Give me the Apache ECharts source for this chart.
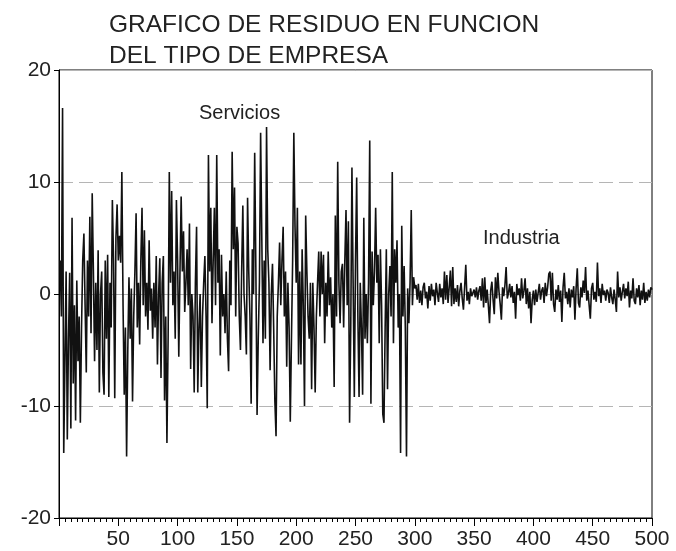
<!DOCTYPE html>
<html>
<head>
<meta charset="utf-8">
<script src="https://cdn.jsdelivr.net/npm/echarts@6/dist/echarts.min.js"></script>
<style>
  html, body { margin: 0; padding: 0; background: #fff; }
  #chart { width: 676px; height: 551px; }
</style>
</head>
<body>
<div id="chart"></div>
<script>
// residuos, observaciones 1-300 (servicios)
const servicios = [
  3, -2, 16.6, -14.2, -6, 2, -13, -4, 1.9, -12,
  6.8, -8, -1, -11.3, 1.2, -6, -2, -11.5, -3, 3,
  5.4, -1, -7, 3, -2, 6.9, -3.5, 9.0, 2, -6,
  1, -5, 3.9, -8.8, 0, 2, -7, -9, 3, -4,
  3.5, -9.2, 1, -3, 8.4, 3, -9.3, 5, 8.0, 3,
  5.2, 2.8, 10.9, -1, -9, -3, -14.5, -5, 1.5, -4,
  0.5, -9.6, -2, 2, 7.2, -3, 1, -4.5, 3, 7.7,
  -1, 5.7, -2, 1, -3.2, 4.8, -1.5, 0.5, -4, 1,
  -3, 3.4, -6.3, 0, 3.2, -7.5, 1, 3.4, -9.5, -2,
  -13.3, -4, 10.9, 1, 9.2, -1, 2, -4, 8.4, 3,
  -5.6, 2, 8.7, 2, 5.6, -1.6, 1, 4, -1, 6.3,
  -6.7, 0, -2, -8.8, 1, 6, -8.8, -3, 0, -8.3,
  -2, 1, 3.4, -2, -10.2, 12.4, 2, 7.7, -2.6, 3,
  7.7, -1, 12.4, 1, 4, -5.5, 3.5, -2, 0, -3.5,
  2, -4, -6.9, 3, -1, 12.7, 4, 9.5, -2, 6,
  4.5, -2, -5, 2, 7.9, 0, -2, -5.4, 8.6, 2,
  -2, -9.8, 4, 0, 12.6, 2, -10.8, -4, 1, 14.4,
  5, -4.4, 3, -4, 14.9, 4, 1, -6.8, 0, 2.7,
  -3, -9.5, -12.7, -2, 1, 4.6, -1, 3, 6, -2,
  2, -6.5, 1, -3, -11.4, -4, 3, 14.4, 6, 1,
  7.7, -6.3, 2, -6.3, 4, -1, -10, 7, 2, -2,
  -4, 1, -8.5, 1, -3, -8.8, -2, 1, 3.8, -2,
  3.8, 0, 3.5, -4.4, 1, -2, 3.8, -1, 1.5, -3,
  0, -8.3, 7, -2, 11.8, 1, -2.6, 2, 2.7, -3,
  3, 7.5, -1, 6.5, -11.5, -3, 11.3, 1, -9.2, 3,
  10.4, -2, -9.2, 1, -3, -9, 6.8, -4, 0, -4.4,
  1, 13.7, -9.8, 3.8, -1, 2, 7.7, 1, 3.5, -4.4,
  4, -1, -10.7, -11.5, -3, 4, -8.5, 0, 2.5, -2,
  10.9, -4.4, 4, 1, 4.8, -3, 0, -14.2, 6.1, -2,
  2.5, -3, -14.5, 0.5, -2.6, 1, 7.5, -1, 1.5, 0.5
];

// residuos, observaciones 301-500 (industria)
const industria = [
  0.8, -0.5, 0.9, -0.8, 0.3, -1.0, 0.6, 1.0, -0.4, 0.2,
  -1.3, 0.7, -0.6, 0.9, -0.2, 0.4, -1.0, 1.0, 0.1, -0.7,
  0.9, -0.3, 0.5, -0.9, 2.0, -0.5, 1.7, -0.8, 0.6, 2.1,
  -1.1, 2.4, -0.9, 0.5, -0.7, 0.8, -1.1, 0.3, 1.0, -0.4,
  -1.4, 0.6, 2.6, -0.6, 0.2, -0.9, 0.5, -0.2, 0.1, 0.4,
  -0.3, 0.6, -0.5, 0.3, 0.7, -0.6, 1.4, -1.2, 1.5, -0.8,
  0.4, -1.0, -2.6, 0.3, 1.1, -0.5, -1.8, 1.5, -0.4, 1.9,
  0.2, -0.9, -2.3, 0.6, -0.2, 0.8, 2.4, -0.4, 0.1, 0.9,
  -0.3, 0.7, -0.8, 0.2, -2.2, 0.9, -0.1, 0.5, -0.6, 1.4,
  -0.4, 0.3, 1.4, -0.9, 0.5, -1.3, 0.2, -2.6, -0.5, 0.3,
  -1.0, 0.4, -0.7, 0.1, 0.9, -0.5, 0.3, 0.6, -0.8, 1.0,
  -0.2, 0.6, 1.8, 2.0, -0.6, 1.9, -0.9, -1.6, 0.4, -0.5,
  0.8, -0.7, 0.3, -2.5, 0.6, 1.9, -0.4, 0.2, -0.9, 0.5,
  -1.2, 0.4, -0.3, 0.7, -2.3, 0.5, 2.3, -0.8, -1.2, 0.6,
  -0.3, 1.2, 0.1, 2.4, -0.6, 0.3, -1.0, -2.2, 0.5, 1.0,
  -0.5, 0.2, -0.7, 2.8, -0.2, 0.5, -0.8, 0.9, -0.1, 0.3,
  -0.6, 0.4, 0.1, -0.8, 0.6, -0.3, -0.9, 0.4, -0.5, -1.6,
  2.0, -0.3, 0.6, -0.6, 0.2, 0.9, -0.4, 0.5, -0.2, 1.1,
  -1.2, 0.3, -0.4, 1.4, -0.6, -0.9, 0.5, -0.3, 0.8, -1.0,
  0.3, -0.5, 1.0, -0.8, 0.2, -0.6, 0.4, -0.3, 0.6, 0.4
];

const tituloLineas = ['GRAFICO DE RESIDUO EN FUNCION', 'DEL TIPO DE EMPRESA'];
const etiquetas = [
  { text: 'Servicios', x: 199, y: 103 },
  { text: 'Industria', x: 483, y: 228 }
];

const residuos = servicios.concat(industria).map((v, i) => [i + 1, v]);

const FONT = '"Liberation Sans", Arial, sans-serif';
const chart = echarts.init(document.getElementById('chart'));

chart.setOption({
  animation: false,
  backgroundColor: '#fff',
  title: {
    text: tituloLineas.join('\n'),
    left: 104,
    top: 5,
    textStyle: {
      fontFamily: FONT,
      fontSize: 24.5,
      fontWeight: 'normal',
      color: '#222',
      lineHeight: 31
    }
  },
  grid: {
    left: 59,
    right: 24,
    top: 70,
    bottom: 33,
    show: true,
    borderColor: '#000',
    borderWidth: 1
  },
  xAxis: {
    type: 'value',
    min: 0,
    max: 500,
    interval: 50,
    axisLine: { onZero: false, lineStyle: { color: '#000', width: 1 } },
    axisTick: { show: true, length: 8, lineStyle: { color: '#000' } },
    minorTick: { show: true, splitNumber: 10, length: 4, lineStyle: { color: '#000' } },
    axisLabel: {
      fontFamily: FONT,
      fontSize: 21,
      color: '#222',
      margin: 11,
      formatter: v => (v === 0 ? '' : v)
    },
    splitLine: { show: false }
  },
  yAxis: [
    {
      type: 'value',
      min: -20,
      max: 20,
      interval: 10,
      axisLine: { show: true, onZero: false, lineStyle: { color: '#000', width: 1 } },
      axisTick: { show: true, length: 5, lineStyle: { color: '#000' } },
      axisLabel: { fontFamily: FONT, fontSize: 21, color: '#222', margin: 8 },
      splitLine: { show: true, lineStyle: { color: '#b5b5b5', width: 1, type: [14, 6] } }
    },
    {
      // linea del cero continua
      type: 'value',
      min: -20,
      max: 20,
      interval: 20,
      axisLine: { show: false },
      axisTick: { show: false },
      axisLabel: { show: false },
      splitLine: { show: true, lineStyle: { color: '#b5b5b5', width: 1 } }
    }
  ],
  series: [
    {
      type: 'line',
      data: residuos,
      showSymbol: false,
      symbol: 'none',
      lineStyle: { color: '#111', width: 1.6 },
      z: 3
    }
  ],
  graphic: etiquetas.map(e => ({
    type: 'text',
    left: e.x,
    top: e.y,
    style: { text: e.text, font: '20px ' + FONT, fill: '#222' }
  }))
});
</script>
</body>
</html>
